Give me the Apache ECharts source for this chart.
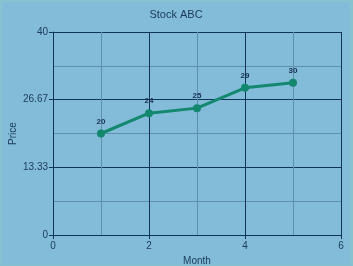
<!DOCTYPE html>
<html><head><meta charset="utf-8">
<script src="https://cdn.jsdelivr.net/npm/echarts@6/dist/echarts.min.js"></script>
<style>
html,body{margin:0;padding:0;background:#86c3cf;}
#c{position:absolute;left:2px;top:2px;width:348px;height:263px;background:#82bcd8;}
</style></head>
<body><div id="c"></div>
<script>
const months = [1, 2, 3, 4, 5];
const prices = [20, 24, 25, 29, 30];
const yTicks = ['0', '13.33', '26.67', '40'];

const chart = echarts.init(document.getElementById('c'), null, {renderer: 'canvas'});
const dark = '#0f3658';
const minor = '#5e8fae';
chart.setOption({
  animation: false,
  backgroundColor: '#82bcd8',
  title: {text: 'Stock ABC', left: 'center', top: 2,
    textStyle: {fontFamily: 'Liberation Sans, Arial', fontSize: 11, fontWeight: 'normal', color: '#1b3a5a'}},
  grid: {left: 51, right: 9, top: 30, bottom: 30, containLabel: false, outerBoundsMode: 'none'},
  xAxis: {
    type: 'value', min: 0, max: 6, interval: 2,
    name: 'Month', nameLocation: 'middle', nameGap: 21,
    nameTextStyle: {fontFamily: 'Liberation Sans, Arial', fontSize: 10, color: '#1b3a5a'},
    axisLine: {show: true, lineStyle: {color: dark, width: 1}},
    axisTick: {show: true, length: 4, lineStyle: {color: dark}},
    axisLabel: {fontFamily: 'Liberation Sans, Arial', fontSize: 10, color: '#1b3a5a', margin: 6},
    splitLine: {show: true, lineStyle: {color: dark, width: 1}},
    minorTick: {show: false, splitNumber: 2},
    minorSplitLine: {show: true, lineStyle: {color: minor, width: 1}}
  },
  yAxis: {
    type: 'value', min: 0, max: 40, interval: 40/3,
    name: 'Price', nameLocation: 'middle', nameGap: 35, nameMoveOverlap: false,
    nameTextStyle: {fontFamily: 'Liberation Sans, Arial', fontSize: 10, color: '#1b3a5a'},
    axisLine: {show: true, lineStyle: {color: dark, width: 1}},
    axisTick: {show: true, length: 4, lineStyle: {color: dark}},
    axisLabel: {fontFamily: 'Liberation Sans, Arial', fontSize: 10, color: '#1b3a5a', margin: 5,
      formatter: function(v){ const i = Math.round(v/(40/3)); return yTicks[i]; }},
    splitLine: {show: true, lineStyle: {color: dark, width: 1}},
    minorTick: {show: false, splitNumber: 2},
    minorSplitLine: {show: true, lineStyle: {color: minor, width: 1}}
  },
  series: [{
    type: 'line',
    data: months.map((m, i) => [m, prices[i]]),
    symbol: 'circle', symbolSize: 8,
    lineStyle: {color: '#14876f', width: 3},
    itemStyle: {color: '#14876f'},
    label: {show: true, position: 'top', distance: 4,
      fontFamily: 'Liberation Sans, Arial', fontSize: 8, fontWeight: 'bold', color: '#1b2f52'}
  }]
});
</script></body></html>
